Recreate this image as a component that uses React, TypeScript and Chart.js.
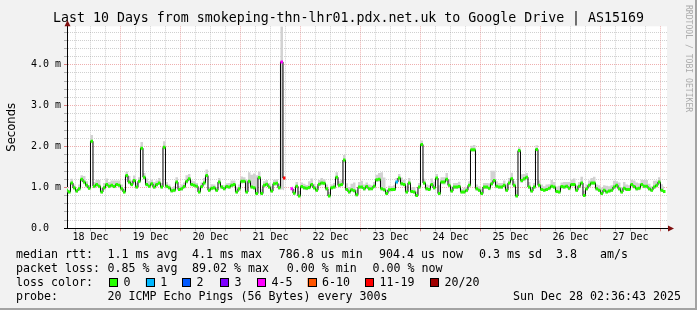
import React, { useEffect, useRef } from 'react';
import { Chart, registerables } from 'chart.js';

Chart.register(...registerables);

// ---------------- data ----------------
const chartTitle = 'Last 10 Days from smokeping-thn-lhr01.pdx.net.uk to Google Drive | AS15169';
const yAxisTitle = 'Seconds';
const dayLabels = ['18 Dec', '19 Dec', '20 Dec', '21 Dec', '22 Dec', '23 Dec', '24 Dec', '25 Dec', '26 Dec', '27 Dec'];
// hours since 18 Dec 00:00
const rangeStartHour = 2 + 36 / 60 + 43 / 3600; // 18 Dec 02:36:43
const rangeHours = 240;
const firstSampleHour = 2.5; // hourly samples
const yMaxMs = 4.94;

// median rtt per hourly sample, ms
const medianRttMs: (number | null)[] = [
  0.93, 0.89, 1.11, 0.99, 0.91, 0.97, 1.20, 1.13, 1.05, 0.98, 2.13, 1.03, 1.07, 1.03, 0.89, 0.99, 1.07, 1.03, 1.05, 1.02, 1.07, 1.05, 0.97, 0.89,
  1.29, 1.13, 1.07, 1.17, 1.01, 1.15, 1.96, 1.25, 1.07, 1.03, 1.09, 1.01, 1.07, 1.11, 1.01, 1.98, 1.03, 0.99, 0.92, 0.93, 1.13, 0.95, 0.97, 1.02,
  1.15, 1.21, 1.07, 1.05, 1.03, 0.89, 1.02, 1.11, 1.29, 0.93, 0.98, 0.99, 0.93, 1.13, 1.01, 0.97, 1.02, 1.01, 1.05, 1.07, 0.89, 0.97, 1.15, 1.15,
  0.89, 1.15, 1.01, 0.99, 0.85, 1.24, 0.85, 1.05, 1.08, 1.01, 0.91, 1.09, 1.10, 0.99, 4.07, 1.23, null, null, 0.97, 0.86, 1.03, 0.79, 1.02, 0.99,
  0.98, 1.00, 1.07, 0.99, 0.93, 1.08, 1.11, 1.10, 0.97, 0.79, 0.99, 1.01, 1.25, 1.05, 1.07, 1.67, 0.95, 0.89, 0.94, 0.92, 0.82, 1.01, 1.01, 0.97,
  1.02, 0.97, 0.97, 1.03, 1.19, 1.20, 0.97, 0.94, 0.85, 0.94, 0.95, 0.95, 1.13, 1.23, 1.09, 1.07, 0.89, 1.11, 0.90, 0.89, 0.80, 1.01, 2.05, 1.11,
  0.97, 0.95, 1.07, 0.99, 1.23, 0.85, 1.13, 1.13, 1.20, 1.05, 0.91, 1.01, 1.01, 1.02, 0.89, 0.89, 0.93, 1.05, 1.92, 1.92, 0.97, 0.93, 0.85, 1.01,
  1.01, 0.98, 1.09, 1.17, 1.03, 1.01, 1.01, 1.05, 0.93, 1.11, 1.21, 1.05, 0.79, 1.90, 1.17, 1.21, 1.25, 1.01, 0.91, 1.01, 1.93, 1.05, 0.95, 0.93,
  0.95, 0.98, 1.03, 1.01, 0.90, 0.89, 1.02, 1.01, 1.03, 0.98, 1.07, 1.07, 0.93, 1.03, 1.11, 0.80, 0.97, 1.05, 1.11, 1.11, 0.97, 0.93, 0.85, 0.93,
  0.89, 0.91, 0.93, 1.01, 1.05, 0.97, 0.89, 0.98, 0.95, 0.95, 1.07, 1.02, 0.97, 0.98, 1.07, 1.03, 1.03, 0.97, 0.93, 1.01, 1.05, 1.13, 0.93, 0.90,
];

// smoke spread above the median, ms
const smokeAboveMs = [
  0.08, 0.05, 0.10, 0.08, 0.06, 0.10, 0.10, 0.15, 0.10, 0.08, 0.15, 0.10, 0.12, 0.15, 0.10, 0.12, 0.15, 0.10, 0.12, 0.15, 0.10, 0.12, 0.10, 0.08,
  0.10, 0.15, 0.10, 0.12, 0.10, 0.10, 0.15, 0.10, 0.15, 0.12, 0.10, 0.12, 0.10, 0.12, 0.10, 0.15, 0.10, 0.08, 0.08, 0.10, 0.12, 0.08, 0.10, 0.10,
  0.15, 0.12, 0.10, 0.10, 0.08, 0.10, 0.10, 0.12, 0.15, 0.08, 0.10, 0.08, 0.08, 0.10, 0.05, 0.08, 0.08, 0.10, 0.12, 0.10, 0.12, 0.10, 0.12, 0.10,
  0.30, 0.22, 0.30, 0.35, 0.45, 0.15, 0.12, 0.10, 0.10, 0.10, 0.12, 0.10, 0.10, 0.10, 0.87, 0.05, 0.00, 0.00, 0.05, 0.10, 0.10, 0.12, 0.10, 0.10,
  0.08, 0.15, 0.15, 0.10, 0.10, 0.10, 0.12, 0.10, 0.10, 0.10, 0.08, 0.10, 0.12, 0.10, 0.12, 0.12, 0.15, 0.12, 0.15, 0.20, 0.12, 0.12, 0.15, 0.10,
  0.10, 0.10, 0.08, 0.10, 0.12, 0.15, 0.40, 0.30, 0.10, 0.10, 0.08, 0.10, 0.10, 0.10, 0.15, 0.12, 0.15, 0.12, 0.10, 0.12, 0.10, 0.10, 0.10, 0.10,
  0.10, 0.10, 0.15, 0.15, 0.10, 0.20, 0.12, 0.12, 0.15, 0.15, 0.12, 0.10, 0.10, 0.12, 0.08, 0.10, 0.08, 0.10, 0.10, 0.12, 0.10, 0.10, 0.12, 0.10,
  0.10, 0.12, 0.32, 0.24, 0.12, 0.10, 0.10, 0.12, 0.15, 0.12, 0.15, 0.10, 0.15, 0.08, 0.15, 0.12, 0.10, 0.12, 0.10, 0.10, 0.10, 0.12, 0.12, 0.10,
  0.12, 0.10, 0.15, 0.12, 0.12, 0.15, 0.10, 0.12, 0.10, 0.15, 0.12, 0.15, 0.12, 0.10, 0.15, 0.12, 0.10, 0.12, 0.12, 0.15, 0.10, 0.12, 0.15, 0.12,
  0.15, 0.12, 0.12, 0.15, 0.10, 0.15, 0.12, 0.15, 0.12, 0.10, 0.12, 0.15, 0.15, 0.12, 0.12, 0.15, 0.15, 0.12, 0.10, 0.15, 0.12, 0.12, 0.15, 0.12,
];

// smoke spread below the median, ms
const smokeBelowMs = [
  0.05, 0.04, 0.06, 0.05, 0.04, 0.05, 0.06, 0.05, 0.05, 0.04, 0.05, 0.05, 0.06, 0.05, 0.04, 0.05, 0.06, 0.05, 0.05, 0.04, 0.05, 0.06, 0.05, 0.04,
  0.06, 0.05, 0.05, 0.06, 0.04, 0.05, 0.05, 0.06, 0.05, 0.04, 0.05, 0.05, 0.06, 0.05, 0.04, 0.05, 0.05, 0.04, 0.05, 0.05, 0.06, 0.04, 0.05, 0.05,
  0.06, 0.05, 0.05, 0.04, 0.05, 0.04, 0.05, 0.06, 0.05, 0.04, 0.05, 0.05, 0.04, 0.06, 0.05, 0.04, 0.05, 0.05, 0.05, 0.06, 0.04, 0.05, 0.06, 0.05,
  0.04, 0.06, 0.05, 0.05, 0.04, 0.06, 0.04, 0.05, 0.05, 0.05, 0.04, 0.05, 0.06, 0.05, 3.12, 0.30, 0.00, 0.00, 0.05, 0.04, 0.05, 0.03, 0.05, 0.05,
  0.05, 0.05, 0.06, 0.05, 0.04, 0.05, 0.06, 0.05, 0.05, 0.03, 0.05, 0.05, 0.06, 0.05, 0.05, 0.05, 0.04, 0.04, 0.05, 0.04, 0.04, 0.05, 0.05, 0.05,
  0.05, 0.05, 0.04, 0.05, 0.06, 0.06, 0.05, 0.04, 0.04, 0.05, 0.05, 0.04, 0.05, 0.06, 0.05, 0.05, 0.04, 0.05, 0.04, 0.04, 0.03, 0.05, 0.05, 0.05,
  0.05, 0.04, 0.05, 0.05, 0.06, 0.04, 0.05, 0.06, 0.06, 0.05, 0.04, 0.05, 0.05, 0.05, 0.04, 0.04, 0.05, 0.05, 0.05, 0.05, 0.05, 0.04, 0.04, 0.05,
  0.05, 0.05, 0.05, 0.06, 0.05, 0.05, 0.05, 0.05, 0.04, 0.05, 0.06, 0.05, 0.03, 0.05, 0.06, 0.06, 0.06, 0.05, 0.04, 0.05, 0.05, 0.05, 0.04, 0.04,
  0.04, 0.05, 0.05, 0.05, 0.04, 0.04, 0.05, 0.05, 0.05, 0.05, 0.05, 0.05, 0.04, 0.05, 0.05, 0.03, 0.05, 0.05, 0.05, 0.05, 0.05, 0.04, 0.04, 0.04,
  0.04, 0.04, 0.04, 0.05, 0.05, 0.05, 0.04, 0.05, 0.04, 0.04, 0.05, 0.05, 0.05, 0.05, 0.05, 0.05, 0.05, 0.05, 0.04, 0.05, 0.05, 0.05, 0.04, 0.04,
];

// samples with packet loss (index into medianRttMs) and their loss class
const lossSampleIndex = [86, 87, 90, 132];
const lossClassAt = [4, 6, 4, 1];
const lossLabels = ['0', '1', '2', '3', '4-5', '6-10', '11-19', '20/20'];
const lossColors = ['#26ff00', '#00b8ff', '#0059ff', '#7e00ff', '#ff00ff', '#ff5500', '#ff0000', '#a00000'];

const rttStats = ['1.1 ms avg', '4.1 ms max', '786.8 us min', '904.4 us now', '0.3 ms sd', '3.8', 'am/s'];
const lossStats = ['0.85 % avg', '89.02 % max', '0.00 % min', '0.00 % now'];
const probeText = '20 ICMP Echo Pings (56 Bytes) every 300s';
const stampText = 'Sun Dec 28 02:36:43 2025';
const watermark = 'RRDTOOL / TOBI OETIKER';

// ---------------- styles / layout ----------------
const MONO = '"DejaVu Sans Mono", monospace';
const BACK = '#f2f2f2';
const SHADE_B = '#a3a3a3';
const GRID_MINOR = 'rgba(150,150,150,0.45)';
const GRID_MAJOR = 'rgba(225,110,110,0.55)';
const SMOKE = '#d2d2d2';
const ARROW = '#7f1010';
const LEGEND_FONT = `11.63px ${MONO}`;
const legendRowY = [254.5, 268.5, 282.5, 296.5];
const legendLeftX = 16;
const legendValueX = 107.6;
const rttStatX = [107.6, 192, 278.7, 379, 479, 556, 600];
const lossStatX = [107.6, 192, 286.7, 372.4];
const lossBoxX = [109, 145.8, 182, 220, 257, 307.6, 365, 430];
const stampRightX = 681;

const isInt = (v: number) => Math.abs(v - Math.round(v)) < 1e-6;

const lossByIndex = new Map<number, number>(lossSampleIndex.map((s, k) => [s, lossClassAt[k]]));
const markColor = (i: number) => lossColors[lossByIndex.get(i) ?? 0];

const sampleX = (i: number) => firstSampleHour + i;
const medianPoints = medianRttMs.map((v, i) => ({ x: sampleX(i), y: v }));
const smokeLowPoints = medianRttMs.map((v, i) => ({ x: sampleX(i), y: v == null ? null : v - smokeBelowMs[i] }));
const smokeHighPoints = medianRttMs.map((v, i) => ({ x: sampleX(i), y: v == null ? null : v + smokeAboveMs[i] }));

const rrdDecor = {
  id: 'rrdDecor',
  beforeDraw(chart: any) {
    const { ctx, chartArea: a, width, height } = chart;
    ctx.save();
    ctx.fillStyle = BACK;
    ctx.fillRect(0, 0, width, height);
    ctx.fillStyle = SHADE_B;
    ctx.fillRect(0, height - 2, width, 2);
    ctx.fillRect(width - 2, 0, 2, height);
    ctx.fillStyle = '#ffffff';
    ctx.fillRect(a.left, a.top, a.right - a.left, a.bottom - a.top);
    ctx.restore();
  },
  afterDraw(chart: any) {
    const { ctx, chartArea: a } = chart;
    ctx.save();
    // axis arrows
    ctx.fillStyle = ARROW;
    const ax = Math.round(a.left) + 0.5;
    ctx.beginPath();
    ctx.moveTo(ax, a.top - 6);
    ctx.lineTo(ax - 3, a.top);
    ctx.lineTo(ax + 3, a.top);
    ctx.closePath();
    ctx.fill();
    const ay = Math.round(a.bottom) + 0.5;
    ctx.beginPath();
    ctx.moveTo(a.right + 7, ay);
    ctx.lineTo(a.right + 1, ay - 3);
    ctx.lineTo(a.right + 1, ay + 3);
    ctx.closePath();
    ctx.fill();

    // watermark
    ctx.save();
    ctx.translate(688, 5);
    ctx.rotate(Math.PI / 2);
    ctx.font = `8.1px ${MONO}`;
    ctx.fillStyle = '#ababab';
    ctx.textBaseline = 'middle';
    ctx.textAlign = 'left';
    ctx.fillText(watermark, 0, 0);
    ctx.restore();

    // legend block
    ctx.font = LEGEND_FONT;
    ctx.fillStyle = '#000';
    ctx.textBaseline = 'middle';
    ctx.textAlign = 'left';
    ctx.fillText('median rtt:', legendLeftX, legendRowY[0]);
    rttStats.forEach((t, k) => ctx.fillText(t, rttStatX[k], legendRowY[0]));
    ctx.fillText('packet loss:', legendLeftX, legendRowY[1]);
    lossStats.forEach((t, k) => ctx.fillText(t, lossStatX[k], legendRowY[1]));
    ctx.fillText('loss color:', legendLeftX, legendRowY[2]);
    lossLabels.forEach((t, k) => {
      const bx = lossBoxX[k];
      const by = legendRowY[2] - 4.5;
      ctx.fillStyle = lossColors[k];
      ctx.fillRect(bx, by, 9, 9);
      ctx.strokeStyle = '#000';
      ctx.lineWidth = 1;
      ctx.strokeRect(Math.round(bx) + 0.5, Math.round(by) + 0.5, 8, 8);
      ctx.fillStyle = '#000';
      ctx.fillText(t, bx + 14.5, legendRowY[2]);
    });
    ctx.fillText('probe:', legendLeftX, legendRowY[3]);
    ctx.fillText(probeText, legendValueX, legendRowY[3]);
    ctx.textAlign = 'right';
    ctx.fillText(stampText, stampRightX, legendRowY[3]);
    ctx.restore();
  },
};

const xGridValues: number[] = [];
for (let h = Math.ceil(rangeStartHour / 6) * 6; h <= rangeStartHour + rangeHours; h += 6) xGridValues.push(h);
const yGridValues: number[] = [];
for (let k = 0; k * 0.2 <= yMaxMs - 0.1; k++) yGridValues.push(Math.round(k * 2) / 10);

export default function App() {
  const ref = useRef<HTMLCanvasElement>(null);
  useEffect(() => {
    document.body.style.margin = '0';
    const chart = new Chart(ref.current as HTMLCanvasElement, {
      type: 'line',
      data: {
        datasets: [
          {
            data: smokeLowPoints as any,
            borderWidth: 0,
            borderColor: 'transparent',
            pointRadius: 0,
            stepped: 'middle',
            fill: false,
            order: 4,
          },
          {
            data: smokeHighPoints as any,
            borderWidth: 0,
            borderColor: 'transparent',
            backgroundColor: SMOKE,
            pointRadius: 0,
            stepped: 'middle',
            fill: '-1',
            order: 3,
          },
          {
            data: medianPoints as any,
            borderColor: '#000000',
            borderWidth: 1,
            stepped: 'middle',
            fill: false,
            pointStyle: 'line',
            pointRadius: 1.25,
            pointBorderWidth: 3,
            pointBorderColor: (c: any) => markColor(c.dataIndex),
            pointBackgroundColor: (c: any) => markColor(c.dataIndex),
            order: 1,
          },
        ],
      },
      options: {
        responsive: false,
        devicePixelRatio: 1,
        animation: false,
        events: [],
        layout: { padding: { left: 0, right: 0, top: 0, bottom: 59.7 } },
        plugins: {
          legend: { display: false },
          tooltip: { enabled: false },
          title: {
            display: true,
            text: chartTitle,
            color: '#000',
            font: { family: MONO, size: 13.27, weight: 'normal', lineHeight: 1.2 },
            padding: { top: 10.4, bottom: 0 },
          },
        },
        scales: {
          x: {
            type: 'linear',
            min: rangeStartHour,
            max: rangeStartHour + rangeHours,
            afterBuildTicks: (s: any) => {
              s.ticks = xGridValues.map((v) => ({ value: v }));
            },
            afterFit: (s: any) => {
              s.height = 22;
            },
            ticks: {
              autoSkip: false,
              maxRotation: 0,
              minRotation: 0,
              padding: 0,
              color: '#000',
              font: { family: MONO, size: 10 },
              callback: (v: any) => (Math.round(v) % 24 === 12 ? dayLabels[Math.floor(v / 24)] : ''),
            },
            grid: {
              color: (c: any) => (c.tick && Math.round(c.tick.value) % 24 === 0 ? GRID_MAJOR : GRID_MINOR),
              lineWidth: 1,
              drawTicks: true,
              tickLength: 3,
              tickColor: (c: any) => (c.tick && Math.round(c.tick.value) % 24 === 0 ? '#d88080' : '#b0b0b0'),
            },
            border: { display: true, color: '#000', width: 1, dash: [1, 1] },
          },
          y: {
            type: 'linear',
            position: 'left',
            min: 0,
            max: yMaxMs,
            afterBuildTicks: (s: any) => {
              s.ticks = yGridValues.map((v) => ({ value: v }));
            },
            afterFit: (s: any) => {
              s.width = 67;
            },
            ticks: {
              autoSkip: false,
              padding: 3,
              color: '#000',
              font: { family: MONO, size: 10 },
              callback: (v: any) => (isInt(v) ? (v === 0 ? '0.0  ' : `${Number(v).toFixed(1)} m`) : ''),
            },
            grid: {
              color: (c: any) => (c.tick && isInt(c.tick.value) ? GRID_MAJOR : GRID_MINOR),
              lineWidth: 1,
              drawTicks: true,
              tickLength: 3,
              tickColor: (c: any) => (c.tick && c.tick.value === 0 ? '#000' : c.tick && isInt(c.tick.value) ? '#d88080' : '#b0b0b0'),
            },
            border: { display: true, color: '#000', width: 1, dash: [1, 1] },
            title: {
              display: true,
              text: yAxisTitle,
              color: '#000',
              font: { family: '"DejaVu Sans", sans-serif', size: 11.6, weight: 'normal' },
              padding: { top: 5.5, bottom: 0 },
            },
          },
          yRightSpace: {
            type: 'linear',
            position: 'right',
            display: true,
            grid: { display: false, drawOnChartArea: false },
            border: { display: false },
            ticks: { display: false },
            afterFit: (s: any) => {
              s.width = 30;
            },
          },
        },
      } as any,
      plugins: [rrdDecor],
    });
    return () => chart.destroy();
  }, []);
  return (
    <div style={{ width: 697, height: 310 }}>
      <canvas ref={ref} width={697} height={310} style={{ display: 'block', width: 697, height: 310 }} />
    </div>
  );
}
